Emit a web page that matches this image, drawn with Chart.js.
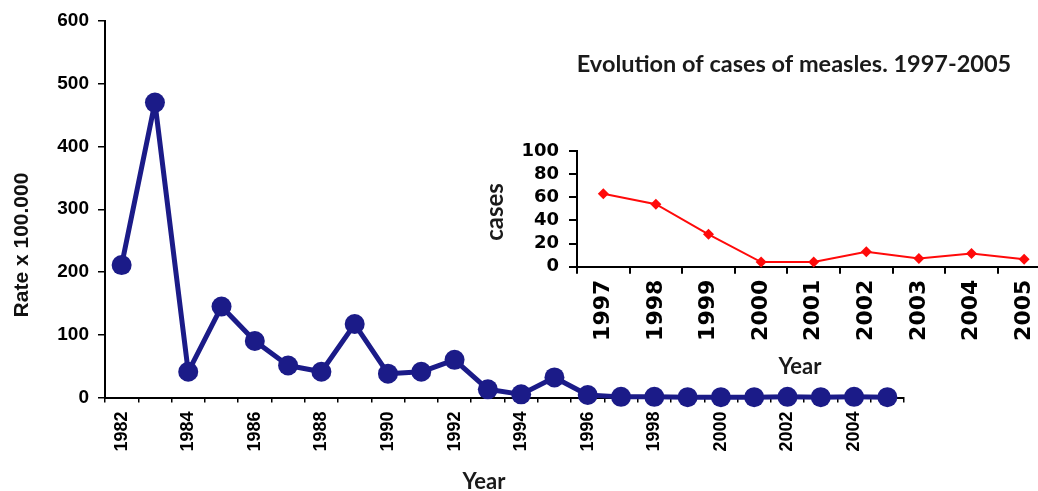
<!DOCTYPE html>
<html>
<head>
<meta charset="utf-8">
<title>Measles rate 1982-2005</title>
<script src="https://cdn.jsdelivr.net/npm/chart.js@4/dist/chart.umd.min.js"></script>
<style>
    html, body { margin: 0; padding: 0; overflow: hidden; background: #fff; }
    #wrap { position: relative; width: 1038px; height: 491px; overflow: hidden; }
    #main { position: absolute; left: 0; top: 0; }
    #inset { position: absolute; left: 470px; top: 30px; }
</style>
</head>
<body>
<div id="wrap">
    <canvas id="main" width="1038" height="491"></canvas>
    <canvas id="inset" width="590" height="360"></canvas>
</div>
<script>
// main chart: rate x 100.000, 1982-2005
var years = ['1982', '1983', '1984', '1985', '1986', '1987', '1988', '1989', '1990', '1991', '1992', '1993',
    '1994', '1995', '1996', '1997', '1998', '1999', '2000', '2001', '2002', '2003', '2004', '2005'];
var rates = [211, 470, 41, 145, 90, 51, 41, 117, 38, 41, 60, 13, 5, 32, 4, 1, 1, 0.5, 0.5, 0.5, 1, 0.5, 1, 0.5];
var rateTicks = [0, 100, 200, 300, 400, 500, 600];

// inset: cases 1997-2005
var caseYears = ['1997', '1998', '1999', '2000', '2001', '2002', '2003', '2004', '2005'];
var cases = [63, 54, 28, 4, 4, 13, 7, 11.5, 6.5];
var caseTicks = [0, 20, 40, 60, 80, 100];

var arial = "'Liberation Sans', Arial, sans-serif";
var calibri = "Lato, 'Open Sans', sans-serif";

// draws free text (axis titles, inset title) where the original has them
var textPlugin = {
    id: 'freeText',
    afterDraw: function (chart, args, opts) {
        var ctx = chart.ctx;
        opts.items.forEach(function (t) {
            ctx.save();
            ctx.translate(t.x, t.y);
            if (t.rotate) {
                ctx.rotate(-Math.PI / 2);
            }
            ctx.font = t.font;
            ctx.fillStyle = t.color || '#111';
            ctx.textAlign = 'center';
            ctx.textBaseline = 'middle';
            ctx.fillText(t.text, 0, 0);
            ctx.restore();
        });
    }
};

var mainChart = new Chart(document.getElementById('main').getContext('2d'), {
    type: 'line',
    data: {
        labels: years,
        datasets: [{
            data: rates,
            borderColor: '#1b1b88',
            backgroundColor: '#1b1b88',
            borderWidth: 5,
            borderJoinStyle: 'round',
            pointRadius: 10,
            pointBorderWidth: 0,
            pointStyle: 'circle',
            tension: 0,
            clip: false
        }]
    },
    options: {
        responsive: false,
        animation: false,
        events: [],
        layout: { padding: { top: 21, right: 134, left: 0, bottom: 0 } },
        plugins: {
            legend: { display: false },
            tooltip: { enabled: false },
            freeText: {
                items: [
                    { text: 'Rate x 100.000', x: 22, y: 245, rotate: true, font: 'bold 21px ' + arial, color: '#111' },
                    { text: 'Year', x: 484, y: 482, font: 'bold 22px ' + calibri, color: '#1a1a1a' }
                ]
            }
        },
        scales: {
            x: {
                type: 'category',
                offset: true,
                grid: { drawOnChartArea: false, drawTicks: true, tickLength: 5, offset: true, color: '#000', lineWidth: 1.5 },
                border: { display: true, color: '#000', width: 2 },
                ticks: {
                    autoSkip: false,
                    maxRotation: 90,
                    minRotation: 90,
                    padding: 9,
                    color: '#000',
                    font: { family: arial, weight: 'bold', size: 18 },
                    callback: function (value, index) {
                        return index % 2 == 0 ? this.getLabelForValue(value) : '';
                    }
                },
                afterFit: function (scale) { scale.height = 93.5; }
            },
            y: {
                min: rateTicks[0],
                max: rateTicks[rateTicks.length - 1],
                grid: { drawOnChartArea: false, drawTicks: true, tickLength: 7, color: '#000', lineWidth: 1.5 },
                border: { display: true, color: '#000', width: 2 },
                ticks: {
                    autoSkip: false,
                    stepSize: rateTicks[1] - rateTicks[0],
                    padding: 9,
                    color: '#000',
                    font: { family: arial, weight: 'bold', size: 19 }
                },
                afterFit: function (scale) { scale.width = 105; }
            }
        }
    },
    plugins: [textPlugin]
});

var insetChart = new Chart(document.getElementById('inset').getContext('2d'), {
    type: 'line',
    data: {
        labels: caseYears,
        datasets: [{
            data: cases,
            borderColor: '#ff0a0a',
            backgroundColor: '#ff0a0a',
            borderWidth: 2,
            pointRadius: 5.5,
            pointBorderWidth: 0,
            pointStyle: 'rectRot',
            tension: 0,
            clip: false
        }]
    },
    options: {
        responsive: false,
        animation: false,
        events: [],
        layout: { padding: { top: 121, right: 9.6, left: 0, bottom: 0 } },
        plugins: {
            legend: { display: false },
            tooltip: { enabled: false },
            freeText: {
                items: [
                    { text: 'Evolution of cases of measles. 1997-2005', x: 324, y: 34, font: 'bold 23.5px ' + calibri, color: '#1a1a1a' },
                    { text: 'cases', x: 25, y: 182, rotate: true, font: 'bold 24px ' + calibri, color: '#1a1a1a' },
                    { text: 'Year', x: 330, y: 337, font: 'bold 22px ' + calibri, color: '#1a1a1a' }
                ]
            }
        },
        scales: {
            x: {
                type: 'category',
                offset: true,
                grid: { drawOnChartArea: false, drawTicks: true, tickLength: 7, offset: true, color: '#000', lineWidth: 2 },
                border: { display: true, color: '#000', width: 2 },
                ticks: {
                    autoSkip: false,
                    maxRotation: 90,
                    minRotation: 90,
                    padding: 6,
                    color: '#000',
                    font: { family: "'DejaVu Sans', sans-serif", weight: 'bold', size: 22 }
                },
                afterFit: function (scale) { scale.height = 123.3; }
            },
            y: {
                min: caseTicks[0],
                max: caseTicks[caseTicks.length - 1],
                grid: { drawOnChartArea: false, drawTicks: true, tickLength: 8, color: '#000', lineWidth: 2 },
                border: { display: true, color: '#000', width: 2 },
                ticks: {
                    autoSkip: false,
                    stepSize: caseTicks[1] - caseTicks[0],
                    padding: 10,
                    color: '#000',
                    font: { family: "'DejaVu Sans', sans-serif", weight: 'bold', size: 18 }
                },
                afterFit: function (scale) { scale.width = 107; }
            }
        }
    },
    plugins: [textPlugin]
});
</script>
</body>
</html>
